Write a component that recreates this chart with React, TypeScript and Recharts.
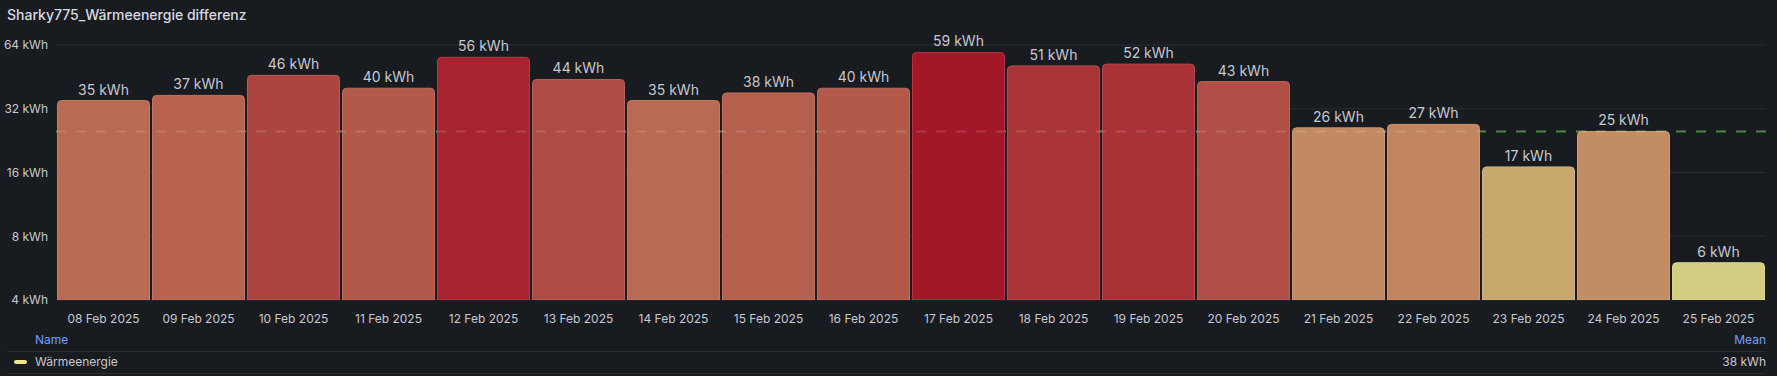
import React from "react";
import {
    BarChart,
    Bar,
    XAxis,
    YAxis,
    CartesianGrid,
    ReferenceLine,
    LabelList,
    Cell,
} from "recharts";

const dates = [
    "08 Feb 2025",
    "09 Feb 2025",
    "10 Feb 2025",
    "11 Feb 2025",
    "12 Feb 2025",
    "13 Feb 2025",
    "14 Feb 2025",
    "15 Feb 2025",
    "16 Feb 2025",
    "17 Feb 2025",
    "18 Feb 2025",
    "19 Feb 2025",
    "20 Feb 2025",
    "21 Feb 2025",
    "22 Feb 2025",
    "23 Feb 2025",
    "24 Feb 2025",
    "25 Feb 2025",
];

const energy = [35, 37, 46, 40, 56, 44, 35, 38, 40, 59, 51, 52, 43, 26, 27, 17, 25, 6];

const yTicks = [4, 8, 16, 32, 64];
const threshold = 25;
const meanLabel = "38 kWh";

// value -> colour stops (Grafana YlRd look)
const colorStops: [number, number[]][] = [
    [6, [212, 204, 128]],
    [17, [200, 168, 109]],
    [26, [194, 138, 98]],
    [35, [185, 106, 82]],
    [46, [172, 69, 64]],
    [52, [169, 50, 56]],
    [59, [163, 24, 40]],
];

function barColor(v: number, lighten = 0) {
    let c = colorStops[colorStops.length - 1][1];
    for (let i = 0; i < colorStops.length - 1; i++) {
        const [a, ca] = colorStops[i];
        const [b, cb] = colorStops[i + 1];
        if (v <= b) {
            const t = Math.max(0, (v - a) / (b - a));
            c = ca.map((x, k) => x + (cb[k] - x) * t);
            break;
        }
    }
    const out = c.map((x) => Math.round(x + (255 - x) * lighten));
    return `rgb(${out.join(",")})`;
}

const data = dates.map((d, i) => ({ date: d, value: energy[i] }));

const textColor = "#c7c8d2";
const bg = "#181b1f";

const chartProps = {
    width: 1777,
    height: 330,
    data,
    margin: { top: 45, right: 11, bottom: 0, left: 0 },
    barCategoryGap: 1.5,
};

export default function App() {
    const xAxis = (show: boolean) => (
        <XAxis
            dataKey="date"
            height={30}
            axisLine={false}
            tickLine={false}
            tickSize={0}
            tickMargin={14}
            interval={0}
            tick={show ? { fill: textColor, fontSize: 12 } : false}
        />
    );
    const yAxis = (show: boolean) => (
        <YAxis
            scale="log"
            domain={[4, 64]}
            ticks={yTicks}
            allowDataOverflow
            width={56}
            axisLine={false}
            tickLine={false}
            tickSize={0}
            tickMargin={8}
            tickFormatter={(v) => `${v} kWh`}
            tick={show ? { fill: textColor, fontSize: 12 } : false}
        />
    );

    return (
        <div
            style={{
                position: "relative",
                width: 1777,
                height: 376,
                background: bg,
                fontFamily: "Inter, sans-serif",
                overflow: "hidden",
            }}
        >
            <style>{`body{margin:0;background:${bg}}`}</style>
            <div
                style={{
                    position: "absolute",
                    left: 7,
                    top: 6,
                    fontSize: 14,
                    lineHeight: "18px",
                    fontWeight: 500,
                    color: "#d8d9e3",
                }}
            >
                Sharky775_Wärmeenergie differenz
            </div>

            {/* back layer: grid, axes, threshold */}
            <div style={{ position: "absolute", left: 0, top: 0 }}>
                <BarChart {...chartProps}>
                    <CartesianGrid vertical={false} stroke="#2a2d33" />
                    {xAxis(true)}
                    {yAxis(true)}
                    <Bar dataKey="value" isAnimationActive={false} fill="transparent" />
                    <ReferenceLine
                        y={threshold}
                        stroke="#2e7526"
                        strokeWidth={2}
                        strokeDasharray="10 10"
                    />
                </BarChart>
            </div>

            {/* front layer: bars */}
            <div style={{ position: "absolute", left: 0, top: 0 }}>
                <BarChart {...chartProps}>
                    {xAxis(false)}
                    {yAxis(false)}
                    <Bar dataKey="value" isAnimationActive={false} radius={[4, 4, 0, 0]}>
                        {data.map((d) => (
                            <Cell
                                key={d.date}
                                fill={barColor(d.value)}
                                stroke={barColor(d.value, 0.12)}
                                strokeWidth={1}
                            />
                        ))}
                        <LabelList
                            dataKey="value"
                            position="top"
                            offset={6}
                            formatter={(v: any) => `${Math.round(v)} kWh`}
                            fill={textColor}
                            fontSize={14}
                        />
                    </Bar>
                    <ReferenceLine
                        y={threshold}
                        stroke="rgba(255,255,255,0.14)"
                        strokeWidth={2}
                        strokeDasharray="10 10"
                    />
                </BarChart>
            </div>

            {/* legend table */}
            <div
                style={{
                    position: "absolute",
                    left: 35,
                    top: 333,
                    fontSize: 12,
                    lineHeight: "14px",
                    color: "#6e9fff",
                }}
            >
                Name
            </div>
            <div
                style={{
                    position: "absolute",
                    right: 1777 - 1766,
                    top: 333,
                    fontSize: 12,
                    lineHeight: "14px",
                    color: "#6e9fff",
                }}
            >
                Mean
            </div>
            <div
                style={{
                    position: "absolute",
                    left: 7,
                    width: 1759,
                    top: 351,
                    height: 1,
                    background: "#2a2d33",
                }}
            />
            <div
                style={{
                    position: "absolute",
                    left: 14,
                    top: 360,
                    width: 13,
                    height: 4,
                    borderRadius: 2,
                    background: "#f2e781",
                }}
            />
            <div
                style={{
                    position: "absolute",
                    left: 35,
                    top: 355,
                    fontSize: 12,
                    lineHeight: "14px",
                    color: textColor,
                }}
            >
                Wärmeenergie
            </div>
            <div
                style={{
                    position: "absolute",
                    right: 1777 - 1766,
                    top: 355,
                    fontSize: 12,
                    lineHeight: "14px",
                    color: textColor,
                }}
            >
                {meanLabel}
            </div>
            <div
                style={{
                    position: "absolute",
                    left: 7,
                    width: 1759,
                    top: 373,
                    height: 1,
                    background: "#2a2d33",
                }}
            />
        </div>
    );
}
